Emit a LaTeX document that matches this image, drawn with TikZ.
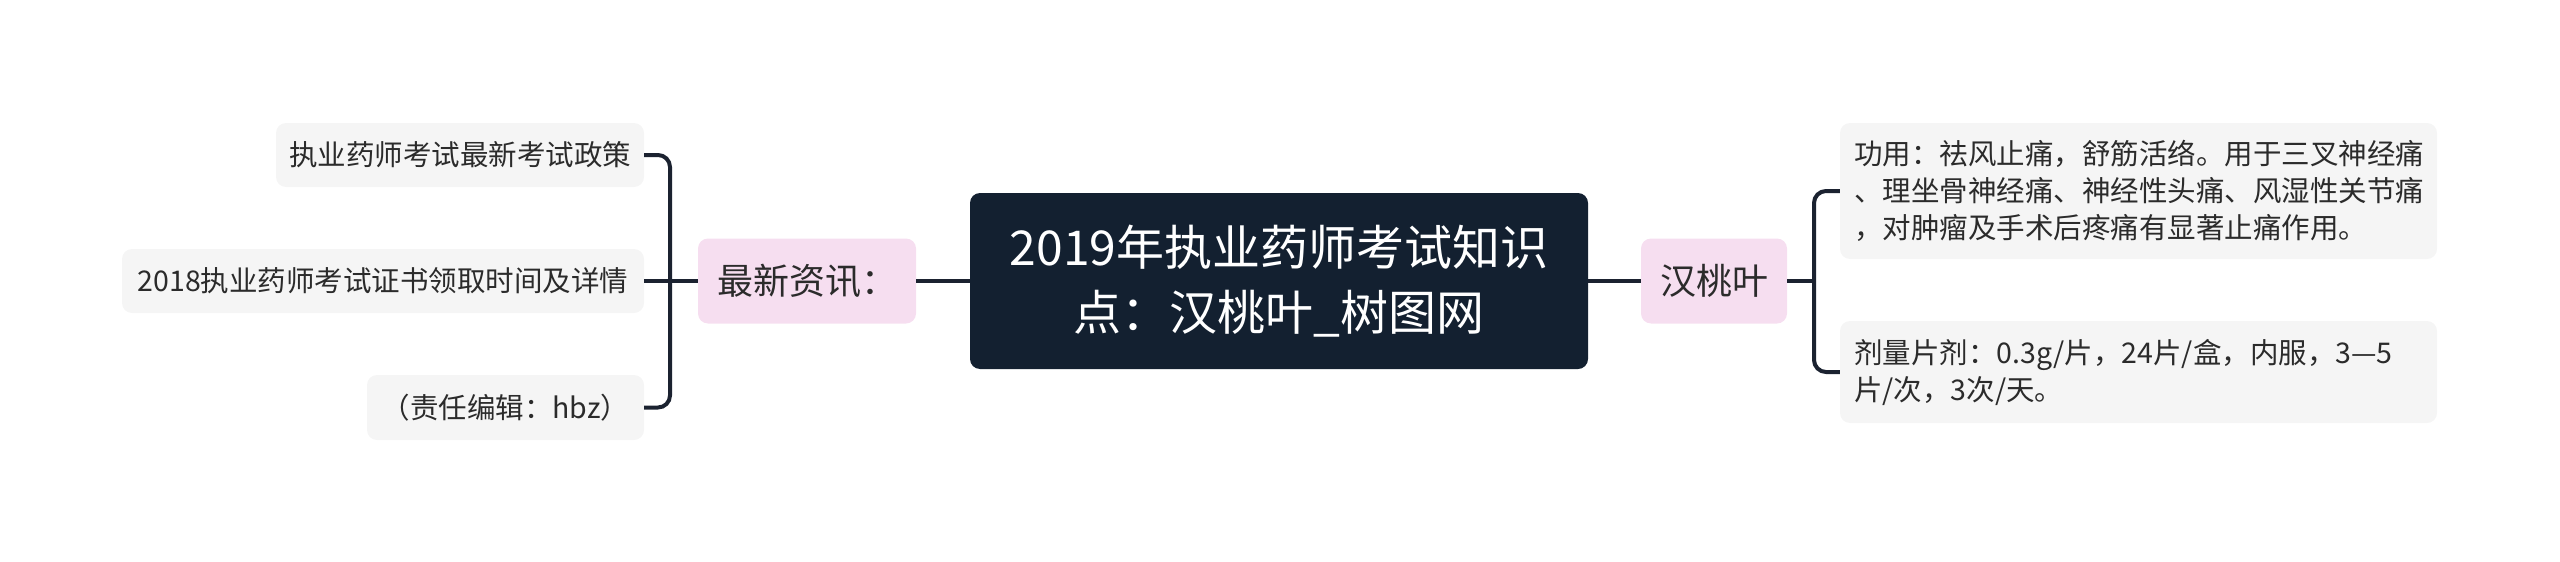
\documentclass[tikz,border=0pt]{standalone}
\usepackage{fontspec}
\setmainfont{Noto Sans CJK SC}
\definecolor{navy}{HTML}{132030}
\definecolor{pinkbg}{HTML}{F6DEF0}
\definecolor{leafbg}{HTML}{F5F5F5}
\definecolor{linec}{HTML}{1B2230}
\definecolor{txt}{HTML}{2B2B2B}
\tikzset{
  conn/.style={draw=linec, line width=4pt, rounded corners=12pt},
  rootbox/.style={fill=navy, rounded corners=10pt, text=white, align=center,
    font=\fontsize{48}{65}\selectfont, inner sep=0pt},
  topicbox/.style={fill=pinkbg, rounded corners=10pt, text=txt, inner sep=0pt,
    font=\fontsize{36}{44}\selectfont},
  leafbox/.style={fill=leafbg, rounded corners=10pt, text=txt, inner sep=0pt,
    font=\fontsize{28.5}{37}\selectfont},
  leafpara/.style={leafbox, inner xsep=14pt, align=left, text width=569pt}
}
\begin{document}
\begin{tikzpicture}[x=1pt,y=-1pt]
\useasboundingbox (0,0) rectangle (2560,562);
% root
\node[rootbox, minimum width=618pt, minimum height=176pt] (root) at (1279,281)
  {2019年执业药师考试知识\\点：汉桃叶\_树图网};
% left topic
\node[topicbox, minimum width=218pt, minimum height=85pt] (news) at (807,281) {最新资讯：};
% left leaves
\node[leafbox, minimum width=368pt, minimum height=64pt] (la) at (460,155) {执业药师考试最新考试政策};
\node[leafbox, minimum width=522pt, minimum height=64pt] (lb) at (383,281) {2018执业药师考试证书领取时间及详情};
\node[leafbox, minimum width=277pt, minimum height=65pt] (lc) at (505.5,407.5) {（责任编辑：hbz）};
% right topic
\node[topicbox, minimum width=146pt, minimum height=85pt] (htx) at (1714,281) {汉桃叶};
% right leaves
\node[leafpara, minimum width=597pt, minimum height=136pt] (ra) at (2138.5,191)
  {功用：祛风止痛，舒筋活络。用于三叉神经痛\\、理坐骨神经痛、神经性头痛、风湿性关节痛\\，对肿瘤及手术后疼痛有显著止痛作用。};
\node[leafpara, minimum width=597pt, minimum height=102pt] (rb) at (2138.5,372)
  {剂量片剂：0.3g/片，24片/盒，内服，3—5\\片/次，3次/天。};
% junctions
\coordinate (lj) at (670,281);
\coordinate (rj) at (1814,281);
% connectors
\draw[conn] (root.west) -- (news.east);
\draw[conn] (root.east) -- (htx.west);
\draw[conn] (news.west) -- (lj);
\draw[conn] (lb.east) -- (lj);
\draw[conn] (la.east) -| (lj);
\draw[conn] (lc.east) -| (lj);
\draw[conn] (htx.east) -- (rj);
\draw[conn] (rj) |- (ra.west);
\draw[conn] (rj) |- (rb.west);
\end{tikzpicture}
\end{document}
